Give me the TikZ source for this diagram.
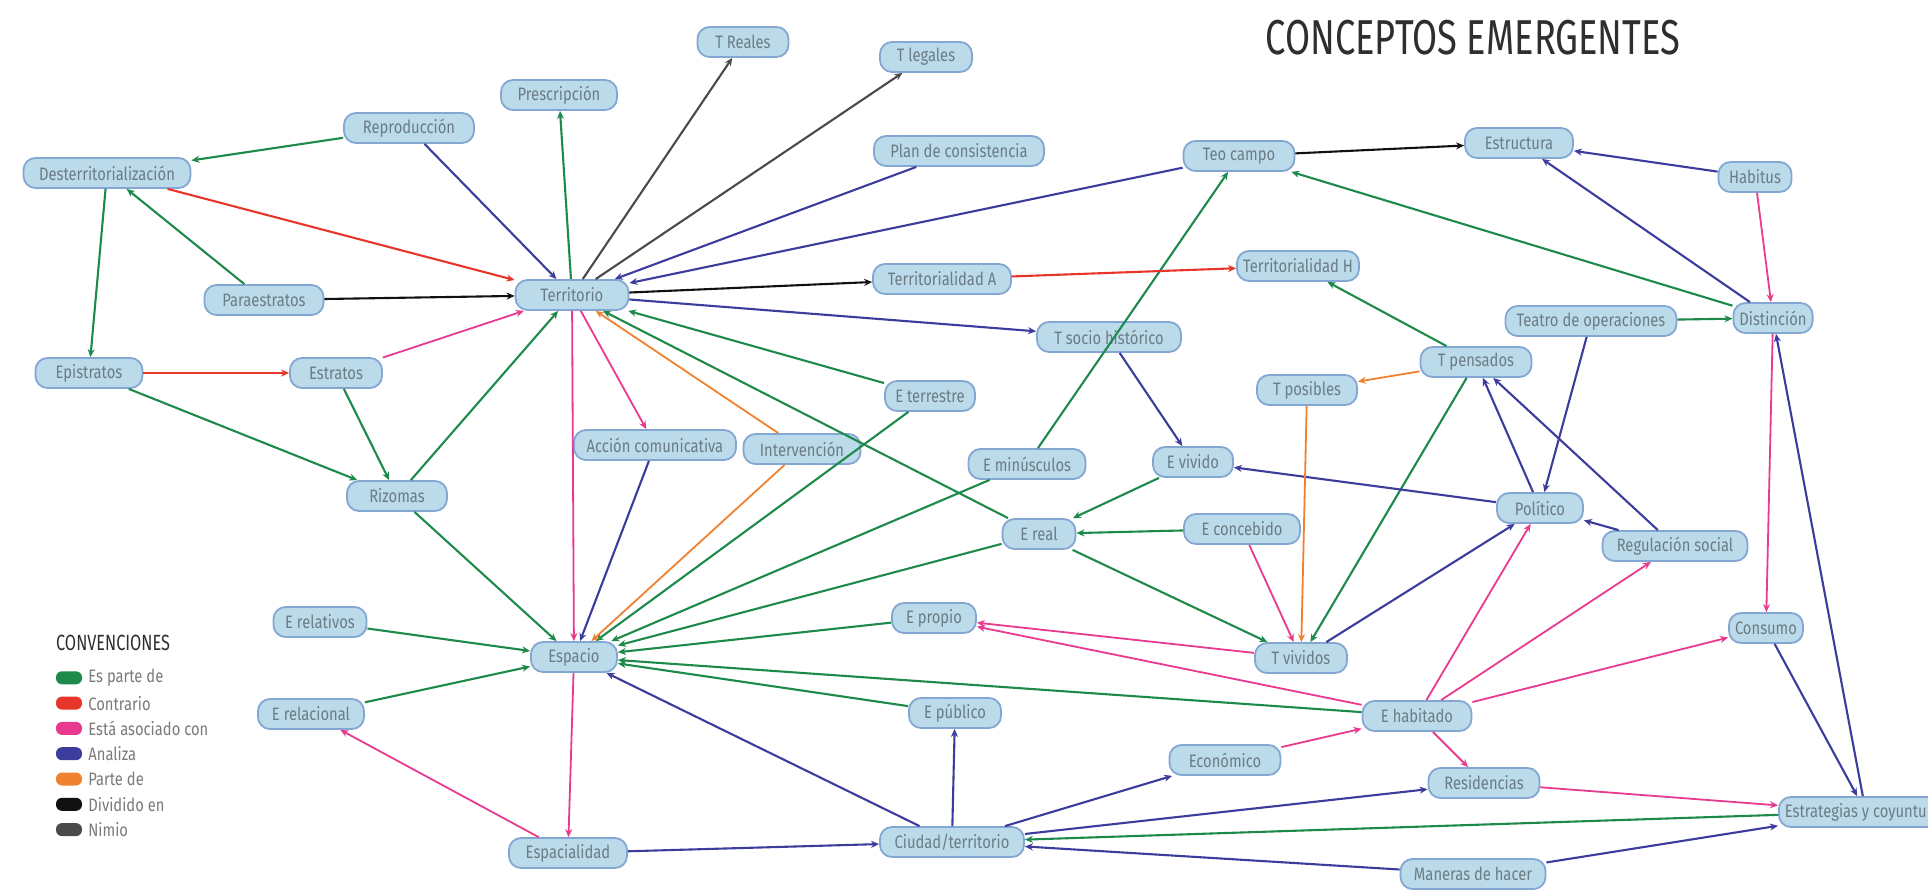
\documentclass[tikz,border=0pt]{standalone}
\usepackage{fontspec}
\usetikzlibrary{arrows.meta,positioning}
\newfontfamily\conceptfont[FakeStretch=0.82]{Fira Sans}
\newfontfamily\headfont[FakeStretch=0.74]{Fira Sans}
\definecolor{boxfill}{HTML}{BCDBEA}
\definecolor{boxline}{HTML}{83A7D2}
\definecolor{boxtext}{HTML}{6A7C84}
\definecolor{cparte}{HTML}{1D8A4B}
\definecolor{ccontra}{HTML}{E8352A}
\definecolor{casoc}{HTML}{E83A8E}
\definecolor{canaliza}{HTML}{3B3C9C}
\definecolor{cpartede}{HTML}{F0812F}
\definecolor{cdividido}{HTML}{111111}
\definecolor{cnimio}{HTML}{4A4A4A}
\definecolor{titlegray}{HTML}{2E2E2E}
\definecolor{legendgray}{HTML}{7A7A7A}

\begin{document}
\begin{tikzpicture}[x=1pt,y=-1pt,>={Stealth[length=8pt,width=7pt]},
    concept/.style={draw=boxline, fill=boxfill, line width=1.8pt, rounded corners=12pt,
      minimum height=30pt, inner xsep=6pt, text=boxtext,
      font=\conceptfont\fontsize{18}{20}\selectfont},
    link/.style={->, line width=2.1pt},
    parte/.style={link, draw=cparte},
    contrario/.style={link, draw=ccontra},
    asociado/.style={link, draw=casoc, line width=1.8pt},
    analiza/.style={link, draw=canaliza},
    partede/.style={link, draw=cpartede, line width=1.8pt},
    dividido/.style={link, draw=cdividido},
    nimio/.style={link, draw=cnimio},
    swatch/.style={minimum width=26pt, minimum height=13pt, inner sep=0pt, rounded corners=6pt},
    legendtext/.style={text=legendgray, inner sep=0pt, font=\conceptfont\fontsize{18}{20}\selectfont}]
        \useasboundingbox (0,0) rectangle (1928,890);
        \clip (0,0) rectangle (1928,890);
        \fill[white] (0,0) rectangle (1928,890);

        \node (title) [text=titlegray, font=\headfont\fontsize{49}{52}\selectfont] at (1473,38) {CONCEPTOS EMERGENTES};

        % conceptos
        \node (treales) [concept, minimum width=91pt] at (743,42) {T Reales};
        \node (tlegales) [concept, minimum width=92pt] at (926,57) {T legales};
        \node (prescr) [concept, minimum width=116pt] at (559,95) {Prescripción};
        \node (reprod) [concept, minimum width=130pt] at (409,128) {Reproducción};
        \node (plan) [concept, minimum width=170pt] at (959,151) {Plan de consistencia};
        \node (teocampo) [concept, minimum width=111pt] at (1239,156) {Teo campo};
        \node (estruct) [concept, minimum width=108pt] at (1519,143) {Estructura};
        \node (habitus) [concept, minimum width=73pt] at (1755,177) {Habitus};
        \node (desterr) [concept, minimum width=167pt] at (107,173) {Desterritorialización};
        \node (paraes) [concept, minimum width=119pt] at (264,300) {Paraestratos};
        \node (terr) [concept, minimum width=113pt] at (572,295) {Territorio};
        \node (terrA) [concept, minimum width=138pt] at (942,279) {Territorialidad A};
        \node (terrH) [concept, minimum width=120pt] at (1298,266) {Territorialidad H};
        \node (teatro) [concept, minimum width=171pt] at (1591,321) {Teatro de operaciones};
        \node (distin) [concept, minimum width=79pt] at (1773,318) {Distinción};
        \node (tsocio) [concept, minimum width=144pt] at (1109,337) {T socio histórico};
        \node (tpens) [concept, minimum width=111pt] at (1476,362) {T pensados};
        \node (epist) [concept, minimum width=107pt] at (89,373) {Epistratos};
        \node (estrat) [concept, minimum width=92pt] at (336,373) {Estratos};
        \node (tposib) [concept, minimum width=100pt] at (1307,390) {T posibles};
        \node (eterr) [concept, minimum width=90pt] at (930,396) {E terrestre};
        \node (accion) [concept, minimum width=162pt] at (655,445) {Acción comunicativa};
        \node (interv) [concept, minimum width=117pt] at (802,449) {Intervención};
        \node (emin) [concept, minimum width=117pt] at (1027,464) {E minúsculos};
        \node (evivido) [concept, minimum width=80pt] at (1193,462) {E vivido};
        \node (rizomas) [concept, minimum width=100pt] at (397,496) {Rizomas};
        \node (econceb) [concept, minimum width=116pt] at (1242,529) {E concebido};
        \node (ereal) [concept, minimum width=73pt] at (1039,534) {E real};
        \node (politico) [concept, minimum width=86pt] at (1540,508) {Político};
        \node (regul) [concept, minimum width=145pt] at (1675,546) {Regulación social};
        \node (erelat) [concept, minimum width=93pt] at (320,622) {E relativos};
        \node (epropio) [concept, minimum width=84pt] at (934,618) {E propio};
        \node (espacio) [concept, minimum width=86pt] at (574,657) {Espacio};
        \node (tvividos) [concept, minimum width=92pt] at (1301,658) {T vividos};
        \node (consumo) [concept, minimum width=74pt] at (1766,628) {Consumo};
        \node (erelac) [concept, minimum width=106pt] at (311,714) {E relacional};
        \node (epublico) [concept, minimum width=92pt] at (955,713) {E público};
        \node (ehabit) [concept, minimum width=109pt] at (1417,716) {E habitado};
        \node (econom) [concept, minimum width=111pt] at (1225,760) {Económico};
        \node (resid) [concept, minimum width=111pt] at (1484,783) {Residencias};
        \node (estrateg) [concept, anchor=west] at (1778,812) {Estrategias y coyunturas};
        \node (espacial) [concept, minimum width=118pt] at (568,853) {Espacialidad};
        \node (ciudad) [concept, minimum width=144pt] at (952,842) {Ciudad/territorio};
        \node (maneras) [concept, minimum width=145pt] at (1473,874) {Maneras de hacer};

        % es parte de
        \draw[parte] (reprod) -- (desterr);
        \draw[parte] (paraes) -- (desterr);
        \draw[parte] (desterr) -- (epist);
        \draw[parte] (epist) -- (rizomas);
        \draw[parte] (estrat) -- (rizomas);
        \draw[parte] (rizomas) -- (terr);
        \draw[parte] (terr) -- (prescr);
        \draw[parte] (eterr) -- (terr);
        \draw[parte] (ereal) -- (terr);
        \draw[parte] (rizomas) -- (espacio);
        \draw[parte] (eterr) -- (espacio);
        \draw[parte] (emin) -- (espacio);
        \draw[parte] (ereal) -- (espacio);
        \draw[parte] (epropio) -- (espacio);
        \draw[parte] (epublico) -- (espacio);
        \draw[parte] (ehabit) -- (espacio);
        \draw[parte] (erelat) -- (espacio);
        \draw[parte] (erelac) -- (espacio);
        \draw[parte] (emin) -- (teocampo);
        \draw[parte] (distin) -- (teocampo);
        \draw[parte] (teatro) -- (distin);
        \draw[parte] (tpens) -- (terrH);
        \draw[parte] (evivido) -- (ereal);
        \draw[parte] (econceb) -- (ereal);
        \draw[parte] (ereal) -- (tvividos);
        \draw[parte] (tpens) -- (tvividos);
        \draw[parte] (estrateg) -- (ciudad);

        % contrario
        \draw[contrario] (desterr) -- (terr);
        \draw[contrario] (epist) -- (estrat);
        \draw[contrario] (terrA) -- (terrH);

        % esta asociado con
        \draw[asociado] (estrat) -- (terr);
        \draw[asociado] (terr) -- (accion);
        \draw[asociado] (terr) -- (espacio);
        \draw[asociado] (espacio) -- (espacial);
        \draw[asociado] (espacial) -- (erelac);
        \draw[asociado] (habitus) -- (distin);
        \draw[asociado] (distin) -- (consumo);
        \draw[asociado] (tvividos) -- (epropio);
        \draw[asociado] (ehabit) -- (epropio);
        \draw[asociado] (econceb) -- (tvividos);
        \draw[asociado] (econom) -- (ehabit);
        \draw[asociado] (ehabit) -- (politico);
        \draw[asociado] (ehabit) -- (regul);
        \draw[asociado] (ehabit) -- (consumo);
        \draw[asociado] (ehabit) -- (resid);
        \draw[asociado] (resid) -- (estrateg);

        % analiza
        \draw[analiza] (reprod) -- (terr);
        \draw[analiza] (plan) -- (terr);
        \draw[analiza] (teocampo) -- (terr);
        \draw[analiza] (terr) -- (tsocio);
        \draw[analiza] (tsocio) -- (evivido);
        \draw[analiza] (accion) -- (espacio);
        \draw[analiza] (ciudad) -- (espacio);
        \draw[analiza] (espacial) -- (ciudad);
        \draw[analiza] (ciudad) -- (epublico);
        \draw[analiza] (ciudad) -- (econom);
        \draw[analiza] (ciudad) -- (resid);
        \draw[analiza] (maneras) -- (ciudad);
        \draw[analiza] (maneras) -- (estrateg);
        \draw[analiza] (politico) -- (evivido);
        \draw[analiza] (tvividos) -- (politico);
        \draw[analiza] (politico) -- (tpens);
        \draw[analiza] (regul) -- (tpens);
        \draw[analiza] (regul) -- (politico);
        \draw[analiza] (teatro) -- (politico);
        \draw[analiza] (habitus) -- (estruct);
        \draw[analiza] (distin) -- (estruct);
        \draw[analiza] (consumo) -- (estrateg);
        \draw[analiza] (estrateg) -- (distin);

        % parte de
        \draw[partede] (interv) -- (terr);
        \draw[partede] (interv) -- (espacio);
        \draw[partede] (tpens) -- (tposib);
        \draw[partede] (tposib) -- (tvividos);

        % dividido en, nimio
        \draw[dividido] (paraes) -- (terr);
        \draw[dividido] (terr) -- (terrA);
        \draw[dividido] (teocampo) -- (estruct);
        \draw[nimio] (terr) -- (treales);
        \draw[nimio] (terr) -- (tlegales);

        % convenciones
        \node (conv) [anchor=west, text=titlegray, inner sep=0pt, font=\headfont\fontsize{22}{24}\selectfont] at (56,643) {CONVENCIONES};
        \foreach \col/\lab [count=\i] in {cparte/Es parte de, ccontra/Contrario, casoc/Está asociado con,
            canaliza/Analiza, cpartede/Parte de, cdividido/Dividido en, cnimio/Nimio} {
            \node (sw\i) [swatch, fill=\col] at (69,652.5+25.3*\i) {};
            \node (lab\i) [legendtext, right=6pt of sw\i] {\lab};
        }
    \end{tikzpicture}
\end{document}
